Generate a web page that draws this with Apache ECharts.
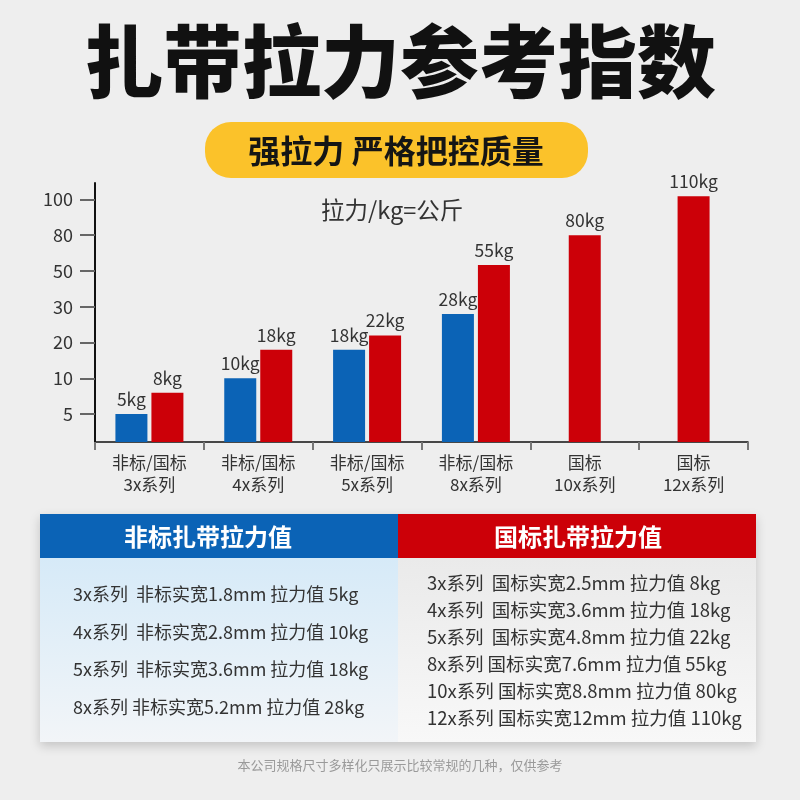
<!DOCTYPE html>
<html>
<head>
<meta charset="utf-8">
<script src="https://cdn.jsdelivr.net/npm/echarts@6/dist/echarts.min.js"></script>
<style>
html,body{margin:0;padding:0;background:#eeeeee;}
#main{width:800px;height:800px;}
</style>
</head>
<body>
<div id="main"></div>
<script>
// ---- data ----
const categories = ['非标/国标\n3x系列', '非标/国标\n4x系列', '非标/国标\n5x系列', '非标/国标\n8x系列', '国标\n10x系列', '国标\n12x系列'];
const nonStdValues = [5, 10, 18, 28, null, null];   // 非标 (kg)
const stdValues = [8, 18, 22, 55, 80, 110];         // 国标 (kg)
const yTickLabels = [5, 10, 20, 30, 50, 80, 100];
const nonStdRows = ['3x系列  非标实宽1.8mm 拉力值 5kg', '4x系列  非标实宽2.8mm 拉力值 10kg', '5x系列  非标实宽3.6mm 拉力值 18kg', '8x系列 非标实宽5.2mm 拉力值 28kg'];
const stdRows = ['3x系列  国标实宽2.5mm 拉力值 8kg', '4x系列  国标实宽3.6mm 拉力值 18kg', '5x系列  国标实宽4.8mm 拉力值 22kg', '8x系列 国标实宽7.6mm 拉力值 55kg', '10x系列 国标实宽8.8mm 拉力值 80kg', '12x系列 国标实宽12mm 拉力值 110kg'];

// ---- piecewise axis scale (ticks evenly spaced, as in the picture) ----
const FIRST = 0.78;            // position of first tick (5kg) above zero
const AXIS_END_KG = 150;       // unlabelled value at axis top
const AXIS_END_POS = 7.24;
const scaleKg = [0].concat(yTickLabels, [AXIS_END_KG]);
const scalePos = [0].concat(yTickLabels.map((_, i) => FIRST + i), [AXIS_END_POS]);
function toPos(v) {
  if (v == null) return null;
  for (let i = 0; i < scaleKg.length - 1; i++) {
    if (v <= scaleKg[i + 1]) {
      return scalePos[i] + (v - scaleKg[i]) / (scaleKg[i + 1] - scaleKg[i]) * (scalePos[i + 1] - scalePos[i]);
    }
  }
  return scalePos[scalePos.length - 1];
}
const tickPositions = yTickLabels.map(toPos);

const pairedStd = stdValues.map((v, i) => nonStdValues[i] != null ? v : null);
const singleStd = stdValues.map((v, i) => nonStdValues[i] == null ? v : null);

const BLUE = '#0b63b6';
const RED = '#cc0008';
const FONT = '"Noto Sans CJK SC", "Noto Sans", sans-serif';

const chart = echarts.init(document.getElementById('main'));

const labelCfg = (raw) => ({
  show: true, position: 'top', distance: 6,
  fontSize: 17.5, color: '#333', fontFamily: FONT,
  formatter: p => raw[p.dataIndex] + 'kg'
});

const graphics = [
  { type: 'text', left: 'center', top: 22, style: { text: '扎带拉力参考指数', font: '900 79px ' + FONT, fill: '#111' } },
  { type: 'rect', shape: { x: 205, y: 122, width: 383, height: 56, r: 26 }, style: { fill: '#fbc22a' } },
  { type: 'text', x: 396, y: 151, style: { text: '强拉力 严格把控质量', font: 'bold 32px ' + FONT, fill: '#151515', align: 'center', verticalAlign: 'middle' } },
  { type: 'text', x: 321, y: 210, style: { text: '拉力/kg=公斤', font: '23.5px ' + FONT, fill: '#333', verticalAlign: 'middle' } },
  // table body with shadow
  { type: 'rect', shape: { x: 40, y: 514, width: 716, height: 228 }, style: { fill: '#f4f4f4', shadowBlur: 10, shadowOffsetY: 4, shadowColor: 'rgba(0,0,0,0.18)' } },
  { type: 'rect', shape: { x: 40, y: 558, width: 358, height: 184 }, style: { fill: new echarts.graphic.LinearGradient(0, 0, 0, 1, [{ offset: 0, color: '#d6eaf8' }, { offset: 1, color: '#f2f5f8' }]) } },
  { type: 'rect', shape: { x: 398, y: 558, width: 358, height: 184 }, style: { fill: new echarts.graphic.LinearGradient(0, 0, 0, 1, [{ offset: 0, color: '#eaeaea' }, { offset: 1, color: '#f8f8f8' }]) } },
  { type: 'rect', shape: { x: 40, y: 514, width: 358, height: 44 }, style: { fill: BLUE } },
  { type: 'rect', shape: { x: 398, y: 514, width: 358, height: 44 }, style: { fill: RED } },
  { type: 'text', x: 208, y: 537, style: { text: '非标扎带拉力值', font: 'bold 24px ' + FONT, fill: '#fff', align: 'center', verticalAlign: 'middle' } },
  { type: 'text', x: 578, y: 537, style: { text: '国标扎带拉力值', font: 'bold 24px ' + FONT, fill: '#fff', align: 'center', verticalAlign: 'middle' } },
  { type: 'text', x: 400, y: 765, style: { text: '本公司规格尺寸多样化只展示比较常规的几种，仅供参考', font: '13px ' + FONT, fill: '#9a9a9a', align: 'center', verticalAlign: 'middle' } }
];
nonStdRows.forEach((t, i) => graphics.push({ type: 'text', x: 73, y: 594 + i * 37.7, style: { text: t, font: '18px ' + FONT, fill: '#333', verticalAlign: 'middle' } }));
stdRows.forEach((t, i) => graphics.push({ type: 'text', x: 427, y: 583 + i * 27, style: { text: t, font: '18.5px ' + FONT, fill: '#333', verticalAlign: 'middle' } }));

chart.setOption({
  backgroundColor: '#eeeeee',
  animation: false,
  textStyle: { fontFamily: FONT },
  grid: { left: 95, right: 52, top: 183, bottom: 358, containLabel: false },
  xAxis: [
    {
      type: 'category', data: categories,
      axisLine: { lineStyle: { color: '#111', width: 1.5 } },
      axisTick: { show: true, length: 8, lineStyle: { color: '#777', width: 2 } },
      axisLabel: { fontSize: 17, lineHeight: 22, color: '#333', margin: 10, fontFamily: FONT }
    },
    { type: 'category', data: categories, show: false }
  ],
  yAxis: {
    type: 'value', min: 0, max: AXIS_END_POS,
    axisLine: { show: true, lineStyle: { color: '#111', width: 2 } },
    axisTick: { show: true, length: 15, customValues: tickPositions, lineStyle: { color: '#666', width: 2 } },
    axisLabel: {
      customValues: tickPositions, margin: 22, fontSize: 18, color: '#333', fontFamily: FONT,
      formatter: v => {
        let best = 0;
        tickPositions.forEach((p, i) => { if (Math.abs(p - v) < Math.abs(tickPositions[best] - v)) best = i; });
        return String(yTickLabels[best]);
      }
    },
    splitLine: { show: false }
  },
  series: [
    { name: '非标', type: 'bar', xAxisIndex: 0, barWidth: 32, barGap: '12.5%', data: nonStdValues.map(toPos), itemStyle: { color: BLUE }, label: labelCfg(nonStdValues) },
    { name: '国标', type: 'bar', xAxisIndex: 0, barWidth: 32, barGap: '12.5%', data: pairedStd.map(toPos), itemStyle: { color: RED }, label: labelCfg(stdValues) },
    { name: '国标单列', type: 'bar', xAxisIndex: 1, barWidth: 32, data: singleStd.map(toPos), itemStyle: { color: RED }, label: labelCfg(stdValues) }
  ],
  graphic: graphics
});
</script>
</body>
</html>
